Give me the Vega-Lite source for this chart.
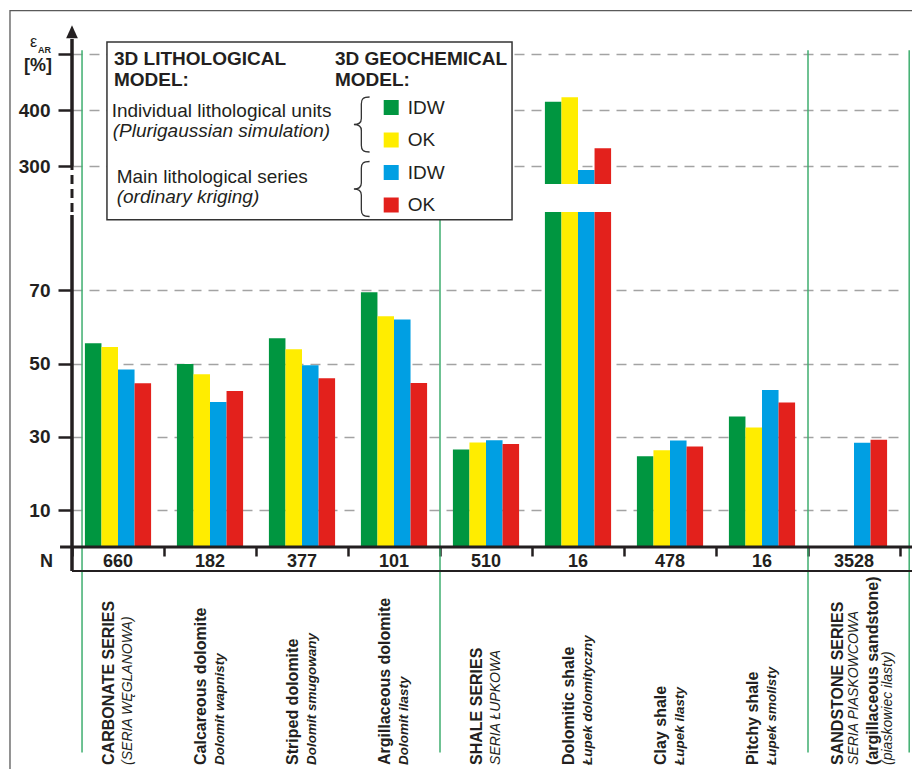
{
  "$schema": "https://vega.github.io/schema/vega-lite/v6.json",
  "width": 840,
  "height": 527,
  "autosize": {"type": "none"},
  "padding": {"left": 72, "top": 20, "right": 0, "bottom": 222},
  "background": "white",
  "config": {"view": {"stroke": null}, "font": "Liberation Sans"},
  "datasets": {
    "bars": [
      {"cat": "CARBONATE SERIES", "model": "Individual units IDW", "value": 55.5},
      {"cat": "CARBONATE SERIES", "model": "Individual units OK", "value": 54.5},
      {"cat": "CARBONATE SERIES", "model": "Main series IDW", "value": 48.4},
      {"cat": "CARBONATE SERIES", "model": "Main series OK", "value": 44.6},
      {"cat": "Calcareous dolomite", "model": "Individual units IDW", "value": 49.9},
      {"cat": "Calcareous dolomite", "model": "Individual units OK", "value": 47.1},
      {"cat": "Calcareous dolomite", "model": "Main series IDW", "value": 39.5},
      {"cat": "Calcareous dolomite", "model": "Main series OK", "value": 42.5},
      {"cat": "Striped dolomite", "model": "Individual units IDW", "value": 56.9},
      {"cat": "Striped dolomite", "model": "Individual units OK", "value": 53.9},
      {"cat": "Striped dolomite", "model": "Main series IDW", "value": 49.5},
      {"cat": "Striped dolomite", "model": "Main series OK", "value": 46.0},
      {"cat": "Argillaceous dolomite", "model": "Individual units IDW", "value": 69.4},
      {"cat": "Argillaceous dolomite", "model": "Individual units OK", "value": 62.9},
      {"cat": "Argillaceous dolomite", "model": "Main series IDW", "value": 62.0},
      {"cat": "Argillaceous dolomite", "model": "Main series OK", "value": 44.7},
      {"cat": "SHALE SERIES", "model": "Individual units IDW", "value": 26.6},
      {"cat": "SHALE SERIES", "model": "Individual units OK", "value": 28.5},
      {"cat": "SHALE SERIES", "model": "Main series IDW", "value": 29.1},
      {"cat": "SHALE SERIES", "model": "Main series OK", "value": 28.1},
      {"cat": "Dolomitic shale", "model": "Individual units IDW", "value": 415},
      {"cat": "Dolomitic shale", "model": "Individual units OK", "value": 423},
      {"cat": "Dolomitic shale", "model": "Main series IDW", "value": 293},
      {"cat": "Dolomitic shale", "model": "Main series OK", "value": 332},
      {"cat": "Clay shale", "model": "Individual units IDW", "value": 24.7},
      {"cat": "Clay shale", "model": "Individual units OK", "value": 26.4},
      {"cat": "Clay shale", "model": "Main series IDW", "value": 29.0},
      {"cat": "Clay shale", "model": "Main series OK", "value": 27.4},
      {"cat": "Pitchy shale", "model": "Individual units IDW", "value": 35.6},
      {"cat": "Pitchy shale", "model": "Individual units OK", "value": 32.6},
      {"cat": "Pitchy shale", "model": "Main series IDW", "value": 42.8},
      {"cat": "Pitchy shale", "model": "Main series OK", "value": 39.4},
      {"cat": "SANDSTONE SERIES", "model": "Main series IDW", "value": 28.4},
      {"cat": "SANDSTONE SERIES", "model": "Main series OK", "value": 29.2}
    ],
    "cats": [
      {"cat": "CARBONATE SERIES", "level": "series", "n": 660, "l2": "(SERIA WĘGLANOWA)"},
      {"cat": "Calcareous dolomite", "level": "unit", "n": 182, "l2": "Dolomit wapnisty"},
      {"cat": "Striped dolomite", "level": "unit", "n": 377, "l2": "Dolomit smugowany"},
      {"cat": "Argillaceous dolomite", "level": "unit", "n": 101, "l2": "Dolomit ilasty"},
      {"cat": "SHALE SERIES", "level": "series", "n": 510, "l2": "SERIA ŁUPKOWA"},
      {"cat": "Dolomitic shale", "level": "unit", "n": 16, "l2": "Łupek dolomityczny"},
      {"cat": "Clay shale", "level": "unit", "n": 478, "l2": "Łupek ilasty"},
      {"cat": "Pitchy shale", "level": "unit", "n": 16, "l2": "Łupek smolisty"},
      {"cat": "SANDSTONE SERIES", "level": "series", "n": 3528, "l2": "SERIA PIASKOWCOWA", "l3": "(argillaceous sandstone)", "l4": "(piaskowiec ilasty)"}
    ]
  },
  "layer": [
    {
      "encoding": {
        "x": {
          "field": "cat", "type": "nominal",
          "scale": {"domain": ["CARBONATE SERIES", "Calcareous dolomite", "Striped dolomite", "Argillaceous dolomite", "SHALE SERIES", "Dolomitic shale", "Clay shale", "Pitchy shale", "SANDSTONE SERIES"], "range": [0, 828], "paddingInner": 0, "paddingOuter": 0},
          "axis": {"labels": false, "domain": false, "ticks": true, "tickBand": "extent", "tickSize": 9, "tickWidth": 2.5, "tickColor": "#231f20", "title": null, "grid": false}
        }
      },
      "layer": [
        {
          "data": {"name": "bars"},
          "mark": {"type": "bar"},
          "encoding": {
            "xOffset": {"field": "model", "type": "nominal", "scale": {"domain": ["Individual units IDW", "Individual units OK", "Main series IDW", "Main series OK"], "paddingOuter": 0.78, "paddingInner": 0}},
            "y": {
              "field": "value", "type": "quantitative",
              "scale": {"type": "linear", "domain": [0, 91.3, 268, 560.9], "range": [527, 192, 164, 0], "nice": false, "zero": false},
              "axis": {"values": [10, 30, 50, 70, 300, 400, 500], "title": null, "domain": false, "ticks": true, "tickColor": "#231f20", "tickWidth": 2.5, "tickSize": 14, "labels": true, "labelFontSize": 19, "labelFontWeight": "bold", "labelColor": "#231f20", "labelPadding": 8, "labelOverlap": false, "grid": true, "gridColor": "#a3a3a3", "gridDash": [10, 7], "gridWidth": 1.5, "labelExpr": "datum.value == 500 ? '' : datum.label"}
            },
            "color": {
              "field": "model", "type": "nominal",
              "scale": {"domain": ["Individual units IDW", "Individual units OK", "Main series IDW", "Main series OK"], "range": ["#009640", "#ffed00", "#009fe3", "#e3211c"]},
              "legend": {"orient": "none", "legendX": 263, "legendY": 30, "padding": 0, "title": ["3D GEOCHEMICAL", "MODEL:"], "titleFontSize": 19, "titleFontWeight": "bold", "titleColor": "#231f20", "titleLineHeight": 21, "titlePadding": 8, "titleLimit": 400, "symbolType": "square", "symbolSize": 225, "symbolOffset": 46.7, "symbolStrokeWidth": 0, "symbolOpacity": 1, "labelFontSize": 19, "labelColor": "#231f20", "labelOffset": 7, "rowPadding": 12.5, "labelExpr": "indexof(datum.label, 'IDW') >= 0 ? 'IDW' : 'OK'"}
            }
          }
        },
        {
          "data": {"name": "cats"},
          "transform": [{"filter": "datum.cat == 'Dolomitic shale'"}],
          "mark": {"type": "rect", "color": "white"},
          "encoding": {"y": {"datum": 91.3}, "y2": {"datum": 268}}
        },
        {
          "data": {"name": "cats"},
          "mark": {"type": "text", "fontSize": 18, "fontWeight": "bold", "baseline": "alphabetic", "align": "center", "color": "#231f20"},
          "encoding": {"y": {"datum": -5.45}, "text": {"field": "n"}}
        },
        {
          "data": {"name": "cats"},
          "transform": [{"filter": "datum.l3 == null"}],
          "mark": {"type": "text", "angle": 270, "align": "left", "baseline": "middle", "fontSize": 16, "fontWeight": "bold", "color": "#231f20", "xOffset": -9},
          "encoding": {"y": {"datum": -59.4}, "text": {"field": "cat"}}
        },
        {
          "data": {"name": "cats"},
          "transform": [{"filter": "datum.level == 'unit'"}],
          "mark": {"type": "text", "angle": 270, "align": "left", "baseline": "middle", "fontSize": 13.5, "fontWeight": "bold", "fontStyle": "italic", "color": "#231f20", "xOffset": 9.5},
          "encoding": {"y": {"datum": -59.4}, "text": {"field": "l2"}}
        },
        {
          "data": {"name": "cats"},
          "transform": [{"filter": "datum.level == 'series' && datum.l3 == null"}],
          "mark": {"type": "text", "angle": 270, "align": "left", "baseline": "middle", "fontSize": 14, "fontStyle": "italic", "color": "#231f20", "xOffset": 9.5},
          "encoding": {"y": {"datum": -59.4}, "text": {"field": "l2"}}
        },
        {
          "data": {"name": "cats"},
          "transform": [{"filter": "datum.l3 != null"}],
          "mark": {"type": "text", "angle": 270, "align": "left", "baseline": "middle", "fontSize": 16, "fontWeight": "bold", "color": "#231f20", "xOffset": -16},
          "encoding": {"y": {"datum": -59.4}, "text": {"field": "cat"}}
        },
        {
          "data": {"name": "cats"},
          "transform": [{"filter": "datum.l3 != null"}],
          "mark": {"type": "text", "angle": 270, "align": "left", "baseline": "middle", "fontSize": 14, "fontStyle": "italic", "color": "#231f20", "xOffset": 0},
          "encoding": {"y": {"datum": -59.4}, "text": {"field": "l2"}}
        },
        {
          "data": {"name": "cats"},
          "transform": [{"filter": "datum.l3 != null"}],
          "mark": {"type": "text", "angle": 270, "align": "left", "baseline": "middle", "fontSize": 16, "fontWeight": "bold", "color": "#231f20", "xOffset": 19},
          "encoding": {"y": {"datum": -59.4}, "text": {"field": "l3"}}
        },
        {
          "data": {"name": "cats"},
          "transform": [{"filter": "datum.l3 != null"}],
          "mark": {"type": "text", "angle": 270, "align": "left", "baseline": "middle", "fontSize": 14, "fontStyle": "italic", "color": "#231f20", "xOffset": 34},
          "encoding": {"y": {"datum": -59.4}, "text": {"field": "l4"}}
        }
      ]
    },
    {
      "data": {"values": [{}]},
      "layer": [
        {
          "mark": {"type": "rect", "filled": false, "stroke": "#5a5a5a", "strokeWidth": 1.3},
          "encoding": {
            "x": {"datum": -0.674, "type": "quantitative", "scale": {"domain": [0, 9], "range": [0, 828], "nice": false, "zero": false}, "axis": null},
            "x2": {"datum": 10},
            "y": {"datum": 577.8, "type": "quantitative"}, "y2": {"datum": -80}
          }
        },
        {
          "mark": {"type": "rule", "color": "#3fae6f", "strokeWidth": 1.5},
          "encoding": {
            "x": {"datum": 0.109, "type": "quantitative", "scale": {"domain": [0, 9], "range": [0, 828], "nice": false, "zero": false}, "axis": null},
            "y": {"datum": 507, "type": "quantitative"}, "y2": {"datum": -56}
          }
        },
        {
          "mark": {"type": "rule", "color": "#3fae6f", "strokeWidth": 1.5},
          "encoding": {
            "x": {"datum": 4, "type": "quantitative", "scale": {"domain": [0, 9], "range": [0, 828], "nice": false, "zero": false}, "axis": null},
            "y": {"datum": 507, "type": "quantitative"}, "y2": {"datum": -56}
          }
        },
        {
          "mark": {"type": "rule", "color": "#3fae6f", "strokeWidth": 1.5},
          "encoding": {
            "x": {"datum": 8, "type": "quantitative", "scale": {"domain": [0, 9], "range": [0, 828], "nice": false, "zero": false}, "axis": null},
            "y": {"datum": 507, "type": "quantitative"}, "y2": {"datum": -56}
          }
        },
        {
          "mark": {"type": "rule", "color": "#3fae6f", "strokeWidth": 1.5},
          "encoding": {
            "x": {"datum": 9.1, "type": "quantitative", "scale": {"domain": [0, 9], "range": [0, 828], "nice": false, "zero": false}, "axis": null},
            "y": {"datum": 507, "type": "quantitative"}, "y2": {"datum": -56}
          }
        },
        {
          "mark": {"type": "rect", "fill": "white", "stroke": "#333333", "strokeWidth": 1.5},
          "encoding": {
            "x": {"datum": 0.38, "type": "quantitative", "scale": {"domain": [0, 9], "range": [0, 828], "nice": false, "zero": false}, "axis": null},
            "x2": {"datum": 4.783},
            "y": {"datum": 521.6, "type": "quantitative"}, "y2": {"datum": 89.2}
          }
        },
        {
          "mark": {"type": "text", "text": ["3D LITHOLOGICAL", "MODEL:"], "lineHeight": 21, "align": "left", "baseline": "alphabetic", "fontSize": 19, "fontWeight": "bold", "color": "#231f20"},
          "encoding": {
            "x": {"datum": 0.4565, "type": "quantitative", "scale": {"domain": [0, 9], "range": [0, 828], "nice": false, "zero": false}, "axis": null},
            "y": {"datum": 480.5, "type": "quantitative"}
          }
        },
        {
          "mark": {"type": "text", "text": "Individual lithological units", "align": "left", "baseline": "alphabetic", "fontSize": 19, "color": "#231f20"},
          "encoding": {
            "x": {"datum": 0.4315, "type": "quantitative", "scale": {"domain": [0, 9], "range": [0, 828], "nice": false, "zero": false}, "axis": null},
            "y": {"datum": 388.5, "type": "quantitative"}
          }
        },
        {
          "mark": {"type": "text", "text": "(Plurigaussian simulation)", "align": "left", "baseline": "alphabetic", "fontSize": 19, "fontStyle": "italic", "color": "#231f20"},
          "encoding": {
            "x": {"datum": 0.442, "type": "quantitative", "scale": {"domain": [0, 9], "range": [0, 828], "nice": false, "zero": false}, "axis": null},
            "y": {"datum": 352.5, "type": "quantitative"}
          }
        },
        {
          "mark": {"type": "text", "text": "Main lithological series", "align": "left", "baseline": "alphabetic", "fontSize": 19, "color": "#231f20"},
          "encoding": {
            "x": {"datum": 0.486, "type": "quantitative", "scale": {"domain": [0, 9], "range": [0, 828], "nice": false, "zero": false}, "axis": null},
            "y": {"datum": 270.3, "type": "quantitative"}
          }
        },
        {
          "mark": {"type": "text", "text": "(ordinary kriging)", "align": "left", "baseline": "alphabetic", "fontSize": 19, "fontStyle": "italic", "color": "#231f20"},
          "encoding": {
            "x": {"datum": 0.486, "type": "quantitative", "scale": {"domain": [0, 9], "range": [0, 828], "nice": false, "zero": false}, "axis": null},
            "y": {"datum": 148.1, "type": "quantitative"}
          }
        },
        {
          "mark": {"type": "point", "shape": "M0.35,-1 C0.12,-1 0.05,-0.94 0.05,-0.75 L0.05,-0.22 C0.05,-0.06 -0.04,0 -0.22,0 C-0.04,0 0.05,0.06 0.05,0.22 L0.05,0.75 C0.05,0.94 0.12,1 0.35,1", "size": 3025, "filled": false, "stroke": "#333333", "strokeWidth": 1.3, "opacity": 1},
          "encoding": {
            "x": {"datum": 3.13, "type": "quantitative", "scale": {"domain": [0, 9], "range": [0, 828], "nice": false, "zero": false}, "axis": null},
            "y": {"datum": 374.25, "type": "quantitative"}
          }
        },
        {
          "mark": {"type": "point", "shape": "M0.35,-1 C0.12,-1 0.05,-0.94 0.05,-0.75 L0.05,-0.22 C0.05,-0.06 -0.04,0 -0.22,0 C-0.04,0 0.05,0.06 0.05,0.22 L0.05,0.75 C0.05,0.94 0.12,1 0.35,1", "size": 3025, "filled": false, "stroke": "#333333", "strokeWidth": 1.3, "opacity": 1},
          "encoding": {
            "x": {"datum": 3.13, "type": "quantitative", "scale": {"domain": [0, 9], "range": [0, 828], "nice": false, "zero": false}, "axis": null},
            "y": {"datum": 236.5, "type": "quantitative"}
          }
        },
        {
          "mark": {"type": "rule", "color": "#231f20", "strokeWidth": 3.5},
          "encoding": {
            "x": {"datum": 0, "type": "quantitative", "scale": {"domain": [0, 9], "range": [0, 828], "nice": false, "zero": false}, "axis": null},
            "y": {"datum": -6.545, "type": "quantitative"}, "y2": {"datum": 90.5}
          }
        },
        {
          "mark": {"type": "rule", "color": "#231f20", "strokeWidth": 3, "strokeDash": [9, 5]},
          "encoding": {
            "x": {"datum": 0, "type": "quantitative", "scale": {"domain": [0, 9], "range": [0, 828], "nice": false, "zero": false}, "axis": null},
            "y": {"datum": 91.3, "type": "quantitative"}, "y2": {"datum": 300}
          }
        },
        {
          "mark": {"type": "rule", "color": "#231f20", "strokeWidth": 3.5},
          "encoding": {
            "x": {"datum": 0, "type": "quantitative", "scale": {"domain": [0, 9], "range": [0, 828], "nice": false, "zero": false}, "axis": null},
            "y": {"datum": 300, "type": "quantitative"}, "y2": {"datum": 527}
          }
        },
        {
          "mark": {"type": "point", "shape": "M0,-1 L0.9,1 L-0.9,1 Z", "size": 169, "filled": true, "color": "#231f20", "opacity": 1},
          "encoding": {
            "x": {"datum": 0, "type": "quantitative", "scale": {"domain": [0, 9], "range": [0, 828], "nice": false, "zero": false}, "axis": null},
            "y": {"datum": 540, "type": "quantitative"}
          }
        },
        {
          "mark": {"type": "rule", "color": "#231f20", "strokeWidth": 3},
          "encoding": {
            "x": {"datum": -0.13, "type": "quantitative", "scale": {"domain": [0, 9], "range": [0, 828], "nice": false, "zero": false}, "axis": null},
            "x2": {"datum": 9.3},
            "y": {"datum": 0, "type": "quantitative"}
          }
        },
        {
          "mark": {"type": "rule", "color": "#231f20", "strokeWidth": 2},
          "encoding": {
            "x": {"datum": 0, "type": "quantitative", "scale": {"domain": [0, 9], "range": [0, 828], "nice": false, "zero": false}, "axis": null},
            "x2": {"datum": 9.3},
            "y": {"datum": -6.545, "type": "quantitative"}
          }
        },
        {
          "mark": {"type": "text", "text": "N", "align": "center", "baseline": "alphabetic", "fontSize": 18, "fontWeight": "bold", "color": "#231f20"},
          "encoding": {
            "x": {"datum": -0.277, "type": "quantitative", "scale": {"domain": [0, 9], "range": [0, 828], "nice": false, "zero": false}, "axis": null},
            "y": {"datum": -5.45, "type": "quantitative"}
          }
        },
        {
          "mark": {"type": "text", "text": "ε", "align": "left", "baseline": "alphabetic", "fontSize": 16, "color": "#231f20"},
          "encoding": {
            "x": {"datum": -0.4565, "type": "quantitative", "scale": {"domain": [0, 9], "range": [0, 828], "nice": false, "zero": false}, "axis": null},
            "y": {"datum": 512.6, "type": "quantitative"}
          }
        },
        {
          "mark": {"type": "text", "text": "AR", "align": "left", "baseline": "alphabetic", "fontSize": 9, "fontWeight": "bold", "color": "#231f20"},
          "encoding": {
            "x": {"datum": -0.37, "type": "quantitative", "scale": {"domain": [0, 9], "range": [0, 828], "nice": false, "zero": false}, "axis": null},
            "y": {"datum": 501.4, "type": "quantitative"}
          }
        },
        {
          "mark": {"type": "text", "text": "[%]", "align": "center", "baseline": "alphabetic", "fontSize": 18, "fontWeight": "bold", "color": "#231f20"},
          "encoding": {
            "x": {"datum": -0.37, "type": "quantitative", "scale": {"domain": [0, 9], "range": [0, 828], "nice": false, "zero": false}, "axis": null},
            "y": {"datum": 470, "type": "quantitative"}
          }
        }
      ]
    }
  ],
  "resolve": {"scale": {"x": "independent"}}
}
